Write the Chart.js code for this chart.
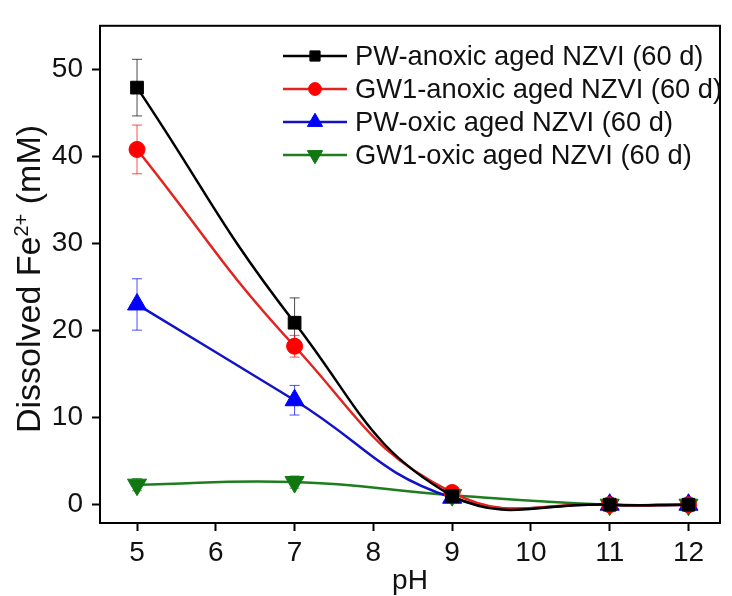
<!DOCTYPE html>
<html>
<head>
<meta charset="utf-8">
<script src="https://cdn.jsdelivr.net/npm/chart.js@4.4.0/dist/chart.umd.min.js"></script>
<style>
  html, body { margin: 0; padding: 0; background: #fff; }
  #wrap { width: 732px; height: 596px; }
</style>
</head>
<body>
<div id="wrap"><canvas id="chart" width="732" height="596"></canvas></div>
<script>
// pH values measured
const phValues = [5, 7, 9, 11, 12];
const xTicks = [5, 6, 7, 8, 9, 10, 11, 12];
const yTicks = [0, 10, 20, 30, 40, 50];

// dissolved Fe2+ (mM) and error bars
const pwAnoxic = [47.9, 20.9, 1.0, 0, 0];
const pwAnoxicErr = [3.25, 2.85, 0.3, 0.1, 0.1];
const gw1Anoxic = [40.8, 18.2, 1.4, 0, 0];
const gw1AnoxicErr = [2.8, 1.25, 0.3, 0.1, 0.1];
const pwOxic = [23.0, 12.0, 0.8, 0, 0];
const pwOxicErr = [2.95, 1.7, 0.3, 0.1, 0.1];
const gw1Oxic = [2.3, 2.6, 1.1, 0, 0];
const gw1OxicErr = [0.7, 0.7, 0.3, 0.1, 0.1];

const seriesNames = [
  'PW-anoxic aged NZVI (60 d)',
  'GW1-anoxic aged NZVI (60 d)',
  'PW-oxic aged NZVI (60 d)',
  'GW1-oxic aged NZVI (60 d)'
];

const FONT = "'Liberation Sans', Arial, sans-serif";

function points(values) {
  return phValues.map((x, i) => ({ x: x, y: values[i] }));
}

function makeSet(i, values, errors, lineColor, markColor, style, radius, rotation) {
  return {
    label: seriesNames[i],
    data: points(values),
    errors: errors,
    errColor: markColor,
    borderColor: lineColor,
    backgroundColor: markColor,
    pointBackgroundColor: markColor,
    pointBorderColor: markColor,
    pointBorderWidth: 1,
    pointStyle: style,
    pointRadius: radius,
    pointRotation: rotation,
    borderWidth: 2.5,
    tension: 0.45,
    fill: false
  };
}

const errorBars = {
  id: 'errorBars',
  beforeDatasetsDraw(chart) {
    const ctx = chart.ctx;
    const xs = chart.scales.x, ys = chart.scales.y;
    chart.data.datasets.forEach((ds) => {
      ctx.save();
      ctx.strokeStyle = ds.errColor;
      ctx.globalAlpha = 0.7;
      ctx.lineWidth = 1;
      ds.errors.forEach((e, i) => {
        const px = xs.getPixelForValue(ds.data[i].x);
        const top = ys.getPixelForValue(ds.data[i].y + e);
        const bot = ys.getPixelForValue(ds.data[i].y - e);
        ctx.beginPath();
        ctx.moveTo(px, top); ctx.lineTo(px, bot);
        ctx.moveTo(px - 5, top); ctx.lineTo(px + 5, top);
        ctx.moveTo(px - 5, bot); ctx.lineTo(px + 5, bot);
        ctx.stroke();
      });
      ctx.restore();
    });
  }
};

const frameAndLegend = {
  id: 'frameAndLegend',
  afterDraw(chart) {
    const ctx = chart.ctx;
    const a = chart.chartArea;
    ctx.save();
    ctx.strokeStyle = '#000';
    ctx.lineWidth = 2;
    ctx.strokeRect(a.left, a.top, a.right - a.left, a.bottom - a.top);

    // legend
    ctx.font = '27.3px ' + FONT;
    ctx.textBaseline = 'middle';
    ctx.textAlign = 'left';
    chart.data.datasets.forEach((ds, i) => {
      const y = 56 + i * 33;
      ctx.strokeStyle = ds.borderColor;
      ctx.lineWidth = 2.5;
      ctx.beginPath();
      ctx.moveTo(283, y); ctx.lineTo(347, y);
      ctx.stroke();
      ctx.fillStyle = ds.pointBackgroundColor;
      ctx.strokeStyle = ds.pointBorderColor;
      ctx.lineWidth = 1;
      Chart.helpers.drawPoint(ctx, {
        pointStyle: ds.pointStyle,
        radius: ds.pointRadius * 0.8,
        rotation: ds.pointRotation,
        borderWidth: 1
      }, 315, y);
      ctx.fillStyle = '#111';
      ctx.fillText(ds.label, 355, y + 1);
    });

    // y title with superscript
    ctx.translate(40, 279);
    ctx.rotate(-Math.PI / 2);
    const p1 = 'Dissolved Fe', sup = '2+', p2 = ' (mM)';
    ctx.font = '34px ' + FONT;
    const w1 = ctx.measureText(p1).width, w3 = ctx.measureText(p2).width;
    ctx.font = '20px ' + FONT;
    const w2 = ctx.measureText(sup).width;
    let x = -(w1 + w2 + w3) / 2;
    ctx.fillStyle = '#111';
    ctx.textBaseline = 'alphabetic';
    ctx.font = '34px ' + FONT;
    ctx.fillText(p1, x, 0);
    x += w1;
    ctx.font = '20px ' + FONT;
    ctx.fillText(sup, x, -12);
    x += w2;
    ctx.font = '34px ' + FONT;
    ctx.fillText(p2, x, 0);
    ctx.restore();
  }
};

new Chart(document.getElementById('chart'), {
  type: 'line',
  data: {
    datasets: [
      makeSet(0, pwAnoxic, pwAnoxicErr, '#000000', '#000000', 'rect', 9, 0),
      makeSet(1, gw1Anoxic, gw1AnoxicErr, '#e3231f', '#ff0000', 'circle', 8, 0),
      makeSet(2, pwOxic, pwOxicErr, '#1212c8', '#0000ff', 'triangle', 11, 0),
      makeSet(3, gw1Oxic, gw1OxicErr, '#1e7d1e', '#117711', 'triangle', 11, 180)
    ]
  },
  options: {
    responsive: false,
    animation: false,
    devicePixelRatio: 1,
    layout: { padding: { left: 0, top: 13, right: 10, bottom: 0 } },
    plugins: {
      legend: { display: false },
      tooltip: { enabled: false }
    },
    scales: {
      x: {
        type: 'linear',
        min: 4.53,
        max: 12.4,
        afterBuildTicks: (s) => { s.ticks = xTicks.map((v) => ({ value: v })); },
        afterFit: (s) => { s.height = 73; },
        border: { display: false },
        grid: { drawOnChartArea: false, drawTicks: true, tickLength: 8, tickColor: '#000', tickWidth: 2 },
        ticks: { color: '#111', font: { family: FONT, size: 28 }, padding: 5, maxRotation: 0 },
        title: { display: true, text: 'pH', color: '#111', font: { family: FONT, size: 28 }, padding: { top: 0, bottom: -2 } }
      },
      y: {
        min: -2.1,
        max: 55,
        afterBuildTicks: (s) => { s.ticks = yTicks.map((v) => ({ value: v })); },
        afterFit: (s) => { s.width = 100; },
        border: { display: false },
        grid: { drawOnChartArea: false, drawTicks: true, tickLength: 8, tickColor: '#000', tickWidth: 2 },
        ticks: { color: '#111', font: { family: FONT, size: 28 }, padding: 9 }
      }
    }
  },
  plugins: [errorBars, frameAndLegend]
});
</script>
</body>
</html>
